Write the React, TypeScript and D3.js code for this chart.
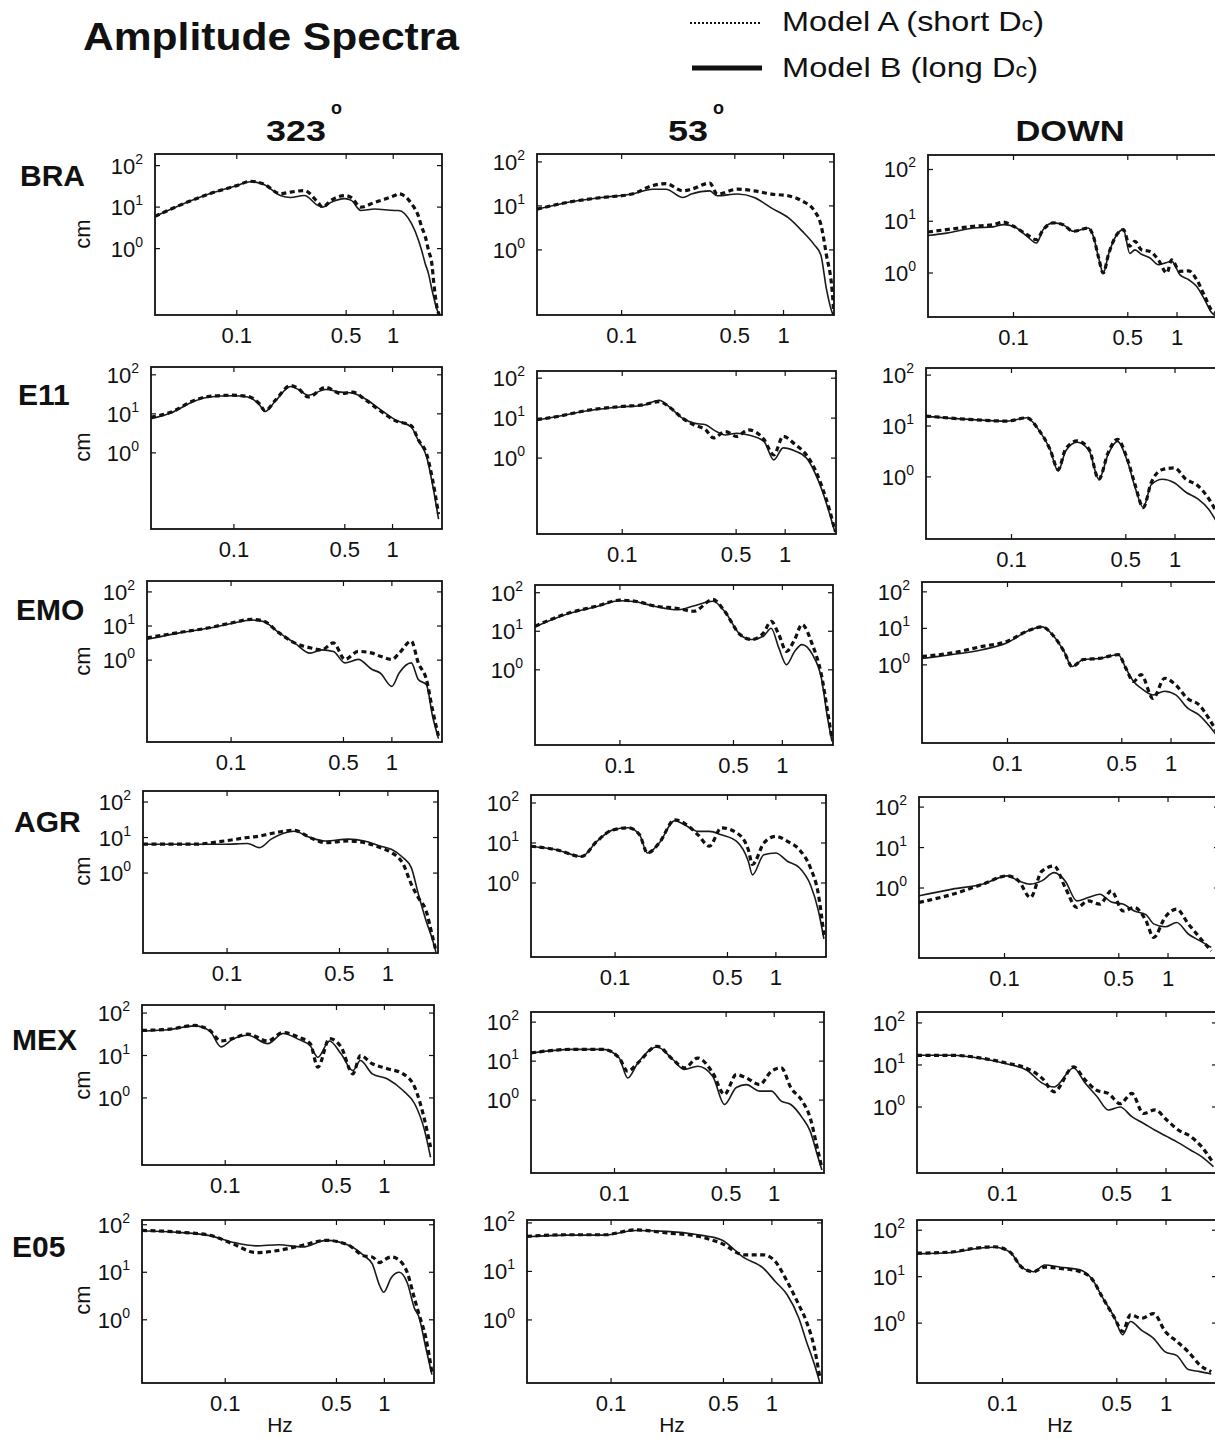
import React from 'react';
import * as d3 from 'd3';

const FONT = '"Liberation Sans", Arial, Helvetica, sans-serif';

const stations = ['BRA', 'E11', 'EMO', 'AGR', 'MEX', 'E05'];
const components = ['323', '53', 'DOWN'];
const xTicks = [0.1, 0.5, 1];
const xTickLabels = ['0.1', '0.5', '1'];
const yTickExps = [0, 1, 2];
const xDomain = [0.03, 2.05];

// each entry: [frequency Hz, Model A (short Dc) cm, Model B (long Dc) cm]
const bra323 = [
  [0.03, 6, 6], [0.043, 11, 11], [0.067, 21, 21], [0.1, 33, 33], [0.122, 42, 41],
  [0.149, 36, 35], [0.19, 21, 19], [0.22, 23, 17], [0.27, 25, 19], [0.33, 13, 11],
  [0.354, 10, 10], [0.4, 14.5, 13], [0.49, 19, 16], [0.54, 17, 14.5], [0.62, 10, 8.3],
  [0.76, 13, 9], [1.02, 19, 8.3], [1.08, 21, 8.3], [1.31, 12, 4], [1.45, 6, 1.6],
  [1.52, 3.3, 0.9], [1.6, 2, 0.44], [1.68, 0.91, 0.25], [1.77, 0.4, 0.1], [1.81, 0.17, 0.07],
  [1.9, 0.04, 0.035], [1.97, 0.025, 0.025],
];
const bra53 = [
  [0.03, 8.4, 8.4], [0.046, 12, 12], [0.075, 15.5, 15.5], [0.116, 18.6, 18.6], [0.155, 29, 24],
  [0.188, 32, 24], [0.239, 22, 15.5], [0.27, 24, 18.6], [0.35, 33, 22], [0.39, 18.6, 17],
  [0.52, 24, 18.6], [0.66, 22, 15.5], [0.84, 18.6, 9], [1.07, 17, 5.4], [1.3, 13, 2.7],
  [1.55, 7.7, 1.3], [1.7, 3.8, 0.77], [1.84, 0.77, 0.13], [2.0, 0.11, 0.037], [2.05, 0.032, 0.03],
];
const braDown = [
  [0.03, 6.2, 5.3], [0.039, 6.9, 5.9], [0.057, 8, 7.4], [0.075, 8.6, 7.8], [0.087, 9.6, 8.6],
  [0.1, 8, 8], [0.121, 5.5, 5.1], [0.138, 4.4, 3.8], [0.152, 6.9, 6.9], [0.175, 9.3, 9.3],
  [0.201, 8.6, 8.6], [0.232, 6.4, 6.4], [0.286, 7.4, 7.4], [0.308, 5.1, 5.1], [0.33, 2.1, 2.1],
  [0.354, 1, 1], [0.381, 2.3, 2.3], [0.428, 5.5, 5.5], [0.47, 6.9, 6.9], [0.514, 3.3, 2.4],
  [0.553, 4.1, 2.8], [0.606, 2.8, 2.3], [0.684, 2.6, 1.95], [0.769, 1.8, 1.45], [0.867, 1, 1.6],
  [0.927, 1.8, 1.7], [1.04, 1.08, 0.93], [1.18, 1.1, 0.74], [1.32, 0.74, 0.55], [1.48, 0.35, 0.3],
  [1.63, 0.19, 0.17], [1.71, 0.17, 0.15],
];

const e11323 = [
  [0.03, 8.2, 7.5], [0.04, 11, 10.5], [0.056, 22, 21], [0.07, 28, 27], [0.098, 30, 29],
  [0.122, 28, 27], [0.145, 18, 17], [0.157, 12, 11.5], [0.182, 22, 21], [0.228, 53, 50],
  [0.255, 44, 42], [0.294, 27, 30], [0.379, 48, 42], [0.473, 33, 36], [0.561, 36, 34],
  [0.664, 24, 25], [0.835, 12, 13], [1.04, 6.7, 7], [1.31, 5, 4.6], [1.46, 2.1, 2],
  [1.64, 0.94, 0.8], [1.79, 0.2, 0.15], [1.95, 0.027, 0.02],
];
const e1153 = [
  [0.03, 9.1, 9], [0.04, 11, 11], [0.063, 16, 15.5], [0.097, 19.5, 19], [0.135, 21.5, 21],
  [0.168, 26, 28], [0.198, 18, 18], [0.234, 10, 10], [0.275, 6.8, 7.5], [0.325, 5.1, 6.8],
  [0.363, 3.2, 5.1], [0.43, 4.6, 3.8], [0.504, 3.5, 4.2], [0.595, 5.1, 3.8], [0.742, 2.9, 2.6],
  [0.85, 1.2, 0.9], [0.972, 3.5, 1.8], [1.15, 2.2, 1.5], [1.35, 1.2, 1.0], [1.51, 0.56, 0.46],
  [1.69, 0.18, 0.15], [1.88, 0.047, 0.038], [2.02, 0.015, 0.014],
];
const e11Down = [
  [0.03, 15.7, 15.5], [0.055, 13.5, 13.5], [0.094, 12.5, 12.5], [0.124, 14.5, 14.5], [0.146, 8.6, 8.6],
  [0.172, 3.5, 3.5], [0.193, 1.4, 1.3], [0.214, 3.5, 3.2], [0.252, 5.1, 4.8], [0.298, 3.5, 3.3],
  [0.342, 0.9, 0.9], [0.39, 3, 2.8], [0.444, 5.5, 5], [0.512, 2.2, 2.0], [0.572, 0.67, 0.6],
  [0.639, 0.25, 0.25], [0.715, 0.77, 0.7], [0.839, 1.4, 0.9], [0.989, 1.5, 0.77], [1.166, 0.9, 0.5],
  [1.38, 0.67, 0.37], [1.61, 0.37, 0.23], [1.8, 0.2, 0.13],
];

const emo323 = [
  [0.03, 4.5, 4.1], [0.047, 6.4, 6.2], [0.073, 8.9, 8.7], [0.102, 12.5, 12], [0.134, 15.7, 15],
  [0.159, 14, 13.5], [0.198, 6.4, 6.4], [0.248, 3.2, 3.2], [0.31, 2.3, 1.6], [0.366, 2, 2],
  [0.433, 3.2, 1.8], [0.51, 1.05, 0.83], [0.618, 1.8, 1.05], [0.754, 1.6, 0.53], [0.846, 1.3, 0.42],
  [1.0, 1.05, 0.17], [1.11, 1.6, 0.42], [1.32, 3.6, 0.83], [1.46, 0.83, 0.27], [1.64, 0.27, 0.19],
  [1.79, 0.035, 0.023], [1.95, 0.0058, 0.005],
];
const emo53 = [
  [0.03, 13.5, 13], [0.045, 27, 26], [0.072, 45, 44], [0.1, 64, 62], [0.125, 60, 58],
  [0.165, 45, 44], [0.228, 39, 36], [0.284, 33, 45], [0.374, 67, 60], [0.441, 33, 33],
  [0.549, 8.2, 8.2], [0.647, 6.1, 6.1], [0.764, 9, 7.4], [0.853, 18, 12], [0.951, 8.2, 3.7],
  [1.06, 3, 1.35], [1.19, 6.1, 3], [1.32, 15, 4.5], [1.53, 4.5, 2.5], [1.74, 0.74, 0.6],
  [1.9, 0.082, 0.055], [2.02, 0.016, 0.014],
];
const emoDown = [
  [0.03, 1.7, 1.5], [0.045, 2.1, 1.9], [0.07, 3.2, 2.6], [0.098, 4.3, 3.9], [0.137, 9, 9],
  [0.163, 11, 11], [0.189, 6.6, 6.6], [0.222, 2.3, 2.3], [0.248, 0.9, 0.9], [0.291, 1.4, 1.4],
  [0.363, 1.5, 1.5], [0.476, 1.9, 1.9], [0.53, 0.8, 0.8], [0.59, 0.35, 0.35], [0.656, 0.54, 0.23],
  [0.776, 0.12, 0.15], [0.914, 0.43, 0.19], [1.07, 0.28, 0.15], [1.26, 0.12, 0.066], [1.48, 0.081, 0.043],
  [1.75, 0.028, 0.019], [1.95, 0.012, 0.01],
];

const agr323 = [
  [0.03, 6.5, 6.5], [0.062, 6.5, 6.5], [0.096, 8, 6.5], [0.134, 10, 6.8], [0.159, 11, 5.2],
  [0.188, 13, 9], [0.262, 16, 15], [0.328, 10, 10], [0.409, 7.2, 8], [0.57, 8, 9],
  [0.715, 7.2, 8], [0.895, 5.2, 5.8], [1.05, 3.8, 4.7], [1.245, 1.8, 2.7], [1.4, 0.48, 1.4],
  [1.55, 0.2, 0.25], [1.73, 0.086, 0.045], [1.88, 0.019, 0.015], [1.99, 0.0065, 0.006],
];
const agr53 = [
  [0.03, 8.3, 8.3], [0.043, 6.8, 6.8], [0.062, 4.6, 4.6], [0.077, 11, 11], [0.096, 21, 21],
  [0.121, 24, 24], [0.142, 16, 16], [0.159, 5.6, 5.6], [0.188, 10, 10], [0.235, 38, 36],
  [0.277, 29, 27], [0.328, 16, 19.5], [0.386, 8.3, 19.5], [0.458, 24, 16], [0.57, 18, 11],
  [0.674, 6.8, 3.5], [0.715, 2.9, 1.6], [0.842, 10, 5.1], [0.997, 14.7, 5.6], [1.18, 11, 3.5],
  [1.4, 6.8, 2.4], [1.64, 2.4, 0.9], [1.84, 0.51, 0.2], [1.99, 0.05, 0.04],
];
const agrDown = [
  [0.03, 0.44, 0.64], [0.048, 0.7, 0.94], [0.074, 1.25, 1.25], [0.104, 2, 2], [0.122, 1.5, 1.5],
  [0.144, 0.58, 1.25], [0.169, 2.6, 1.5], [0.201, 3.5, 2.4], [0.235, 1.03, 1.5], [0.277, 0.33, 0.48],
  [0.325, 0.48, 0.58], [0.383, 0.4, 0.7], [0.45, 0.85, 0.45], [0.53, 0.27, 0.4], [0.623, 0.33, 0.27],
  [0.733, 0.155, 0.22], [0.817, 0.06, 0.13], [0.96, 0.19, 0.11], [1.13, 0.3, 0.14], [1.33, 0.13, 0.073],
  [1.56, 0.06, 0.05], [1.84, 0.028, 0.034],
];

const mex323 = [
  [0.03, 39, 38], [0.045, 42, 41], [0.064, 51, 50], [0.08, 39, 38], [0.094, 22, 16],
  [0.111, 25, 24], [0.139, 32, 30], [0.185, 22, 19], [0.231, 35, 33], [0.289, 27, 24],
  [0.342, 19, 17], [0.382, 5.3, 9.1], [0.452, 25, 22], [0.534, 16, 11], [0.634, 3.7, 4.4],
  [0.707, 10, 7.6], [0.839, 6.4, 3.7], [1.047, 4.9, 2.8], [1.31, 3.7, 1.5], [1.55, 1.8, 0.73],
  [1.79, 0.3, 0.17], [1.95, 0.07, 0.04],
];
const mex53 = [
  [0.03, 16.3, 16], [0.054, 20, 20], [0.085, 20, 20], [0.107, 12, 12], [0.121, 5.5, 3.7],
  [0.14, 9, 9], [0.185, 24, 23], [0.232, 11, 11], [0.274, 6.7, 6.1], [0.332, 12, 7.4],
  [0.412, 5, 4.1], [0.488, 1.4, 0.77], [0.579, 4.5, 2.1], [0.669, 3.7, 2.5], [0.81, 2.5, 1.7],
  [0.96, 5.5, 1.7], [1.107, 6.7, 0.94], [1.27, 2.1, 0.77], [1.5, 0.94, 0.35], [1.68, 0.35, 0.16],
  [1.88, 0.049, 0.034], [1.99, 0.018, 0.016],
];
const mexDown = [
  [0.03, 17, 17], [0.049, 17, 17], [0.076, 14.4, 14], [0.107, 11, 10.5], [0.141, 8.3, 7.5],
  [0.175, 4.8, 3.7], [0.207, 2.3, 3], [0.272, 9, 8.5], [0.32, 4.4, 3.7], [0.377, 2.5, 1.8],
  [0.444, 2.1, 0.85], [0.524, 1.2, 1], [0.618, 2.1, 0.59], [0.727, 0.7, 0.41], [0.857, 0.85, 0.28],
  [1.01, 0.49, 0.2], [1.195, 0.28, 0.14], [1.41, 0.2, 0.095], [1.65, 0.114, 0.066], [1.95, 0.046, 0.038],
];

const e05323 = [
  [0.03, 76, 75], [0.051, 70, 69], [0.08, 60, 59], [0.111, 40, 43], [0.156, 26, 36],
  [0.218, 29, 38], [0.306, 37, 34], [0.43, 47, 47], [0.597, 37, 37], [0.748, 22, 22],
  [0.839, 21, 15], [0.935, 16, 5.2], [0.99, 18, 3.8], [1.107, 21, 7.8], [1.24, 18, 10],
  [1.39, 10, 6.1], [1.55, 2.7, 1.7], [1.64, 1.4, 1.2], [1.83, 0.39, 0.24], [1.99, 0.078, 0.07],
];
const e0553 = [
  [0.03, 53, 52], [0.052, 57, 56], [0.091, 57, 56], [0.142, 72, 70], [0.222, 62, 67],
  [0.347, 53, 57], [0.484, 38, 45], [0.674, 22, 19], [0.884, 22, 11.7], [1.05, 16, 6.2],
  [1.245, 6.2, 3.3], [1.47, 2.06, 1.1], [1.64, 0.93, 0.36], [1.84, 0.26, 0.12], [1.99, 0.063, 0.05],
];
const e05Down = [
  [0.03, 32, 31], [0.049, 34, 33], [0.068, 41, 40], [0.089, 44, 43], [0.111, 34, 34],
  [0.131, 16, 16], [0.155, 12.8, 12.8], [0.181, 16, 17.8], [0.226, 15, 16], [0.298, 12.8, 14],
  [0.35, 9.2, 9.2], [0.412, 3.4, 3.4], [0.486, 1.27, 1.27], [0.542, 0.66, 0.56], [0.606, 1.5, 1.08],
  [0.71, 1.27, 0.7], [0.839, 1.6, 0.47], [0.989, 0.66, 0.24], [1.166, 0.4, 0.2], [1.37, 0.24, 0.1],
  [1.61, 0.125, 0.09], [1.89, 0.09, 0.08],
];

const spectra = [
  [bra323, bra53, braDown],
  [e11323, e1153, e11Down],
  [emo323, emo53, emoDown],
  [agr323, agr53, agrDown],
  [mex323, mex53, mexDown],
  [e05323, e0553, e05Down],
];

// y extents per panel, log10(cm) [bottom, top]
const yExtents = [
  [[-1.6, 2.28], [-1.48, 2.18], [-0.85, 2.28]],
  [[-1.95, 2.2], [-1.9, 2.18], [-1.22, 2.14]],
  [[-2.4, 2.32], [-1.95, 2.2], [-2.14, 2.27]],
  [[-2.25, 2.31], [-1.85, 2.2], [-1.73, 2.25]],
  [[-1.58, 2.19], [-1.87, 2.26], [-1.57, 2.26]],
  [[-1.33, 2.1], [-1.3, 2.06], [-1.29, 2.22]],
];

// panel frames [x0, x1, y0, y1] (scanned figure, slightly uneven)
const boxes = [
  [[155, 442, 154, 315], [537, 834, 154, 315], [928, 1228, 155, 317]],
  [[151, 442, 367, 529], [537, 836, 371, 534], [926, 1226, 368, 539]],
  [[147, 442, 581, 742], [535, 833, 585, 745], [922, 1222, 582, 743]],
  [[143, 438, 791, 953], [531, 826, 795, 957], [919, 1219, 797, 958]],
  [[142, 434, 1005, 1165], [531, 824, 1012, 1173], [917, 1217, 1012, 1173]],
  [[142, 434, 1220, 1383], [527, 822, 1220, 1383], [917, 1217, 1220, 1383]],
];
const rowLabelX = [20, 18, 16, 14, 12, 12];
const rowLabelY = [186, 405, 620, 832, 1050, 1257];
const headerX = [296, 688, 1070];
const hzX = [280, 672, 1060];

function Panel({ r, c, data }) {
  const [x0, x1, y0, y1] = boxes[r][c];
  const [lo, hi] = yExtents[r][c];
  const x = d3.scaleLog().domain(xDomain).range([x0, x1]);
  const y = d3.scaleLog().domain([10 ** lo, 10 ** hi]).range([y1, y0]);
  const lineA = d3.line().x(d => x(d[0])).y(d => y(d[1])).curve(d3.curveMonotoneX);
  const lineB = d3.line().x(d => x(d[0])).y(d => y(d[2])).curve(d3.curveMonotoneX);
  const id = `clip-${r}-${c}`;
  return (
    <g>
      <clipPath id={id}>
        <rect x={x0} y={y0} width={x1 - x0} height={y1 - y0} />
      </clipPath>
      <g clipPath={`url(#${id})`}>
        <path d={lineB(data)} fill="none" stroke="#1a1a1a" strokeWidth={1.6} />
        <path d={lineA(data)} fill="none" stroke="#111" strokeWidth={3.2} strokeDasharray="5 3.5" />
      </g>
      <rect x={x0} y={y0} width={x1 - x0} height={y1 - y0} fill="none" stroke="#111" strokeWidth={1.8} />
      {xTicks.map((t, i) => (
        <g key={'x' + i}>
          <line x1={x(t)} x2={x(t)} y1={y1} y2={y1 - 5} stroke="#111" strokeWidth={1.2} />
          <line x1={x(t)} x2={x(t)} y1={y0} y2={y0 + 5} stroke="#111" strokeWidth={1.2} />
          <text x={x(t)} y={y1 + 28} textAnchor="middle" fontSize={22} fill="#111">{xTickLabels[i]}</text>
        </g>
      ))}
      {yTickExps.map(k => (
        <g key={'y' + k}>
          <line x1={x0} x2={x0 + 5} y1={y(10 ** k)} y2={y(10 ** k)} stroke="#111" strokeWidth={1.2} />
          <line x1={x1} x2={x1 - 5} y1={y(10 ** k)} y2={y(10 ** k)} stroke="#111" strokeWidth={1.2} />
          <text x={x0 - 12} y={y(10 ** k) + 8} textAnchor="end" fontSize={22} fill="#111">
            10<tspan dy={-10} fontSize={14}>{k}</tspan>
          </text>
        </g>
      ))}
      {c === 0 && (
        <text transform={`translate(90,${y0 + 80}) rotate(-90)`} textAnchor="middle" fontSize={22} fill="#111">cm</text>
      )}
      {r === 5 && (
        <text x={hzX[c]} y={1432} textAnchor="middle" fontSize={21} fill="#111">Hz</text>
      )}
    </g>
  );
}

export default function App() {
  return (
    <svg width={1215} height={1439} style={{ position: 'absolute', left: 0, top: 0 }} fontFamily={FONT}>
      <rect width={1215} height={1439} fill="#fff" />
      <text x={83} y={50} fontSize={38} fontWeight="bold" textLength={376} lengthAdjust="spacingAndGlyphs" fill="#111">
        Amplitude Spectra
      </text>

      <line x1={690} x2={762} y1={23} y2={23} stroke="#111" strokeWidth={1.8} strokeDasharray="2 2" />
      <text x={782} y={31} fontSize={28} textLength={262} lengthAdjust="spacingAndGlyphs" fill="#111">
        Model A (short D<tspan fontSize={20}>c</tspan>)
      </text>
      <line x1={692} x2={762} y1={68} y2={68} stroke="#111" strokeWidth={5} />
      <text x={782} y={77} fontSize={28} textLength={256} lengthAdjust="spacingAndGlyphs" fill="#111">
        Model B (long D<tspan fontSize={20}>c</tspan>)
      </text>

      {components.map((name, c) => (
        <g key={name}>
          <text x={headerX[c]} y={141} textAnchor="middle" fontSize={30} fontWeight="bold" fill="#111"
            textLength={name === 'DOWN' ? 109 : name.length * 20} lengthAdjust="spacingAndGlyphs">{name}</text>
          {name !== 'DOWN' && (
            <text x={headerX[c] + (name.length * 10) + 5} y={114} fontSize={18} fontWeight="bold" fill="#111">o</text>
          )}
        </g>
      ))}

      {stations.map((s, r) => (
        <text key={s} x={rowLabelX[r]} y={rowLabelY[r]} fontSize={30} fontWeight="bold" fill="#111">{s}</text>
      ))}

      {spectra.map((row, r) => row.map((data, c) => (
        <Panel key={`${r}-${c}`} r={r} c={c} data={data} />
      )))}
    </svg>
  );
}
